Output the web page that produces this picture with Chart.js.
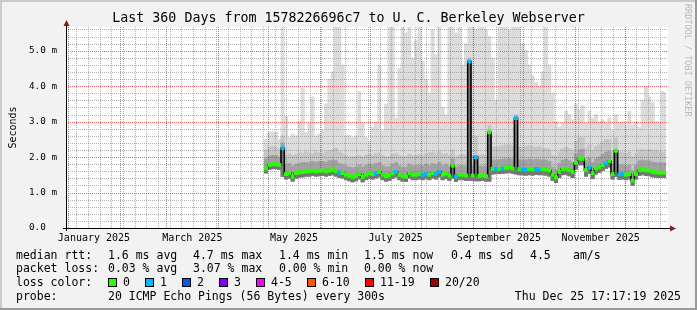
<!DOCTYPE html>
<html><head><meta charset="utf-8">
<script src="https://cdn.jsdelivr.net/npm/chart.js@4/dist/chart.umd.min.js"></script>
<style>
html,body{margin:0;padding:0;background:#f2f2f2;}
#wrap{position:relative;width:697px;height:310px;overflow:hidden;}
canvas{position:absolute;left:0;top:0;}
.t{position:absolute;font-family:"DejaVu Sans Mono",monospace;white-space:pre;color:#000;}
#title{left:0;width:697px;text-align:center;top:9px;font-size:13.3px;line-height:18px;}
.lg{font-size:11.5px;line-height:14px;}
.box{position:absolute;width:7px;height:7px;border:1px solid #000;}
#wm{position:absolute;left:683px;top:4px;writing-mode:vertical-rl;font-family:"DejaVu Sans Mono",monospace;font-size:8.5px;color:#b8b8b8;}
</style></head>
<body><div id="wrap"><canvas id="c" width="697" height="310"></canvas>
<div id="title" class="t">Last 360 Days from 1578226696c7 to U. C. Berkeley Webserver</div>
<div id="wm">RRDTOOL / TOBI OETIKER</div>
</div>
<script>
// ---- data (days since start of 360-day window, values in ms) ----
const sampleDays = [120,122,124,126,128,130,132,134,136,138,140,142,144,146,148,150,152,154,156,158,
160,162,164,166,168,170,172,174,176,178,180,182,184,186,188,190,192,194,196,198,
200,202,204,206,208,210,212,214,216,218,220,222,224,226,228,230,232,234,236,238,
240,242,244,246,248,250,252,254,256,258,260,262,264,266,268,270,272,274,276,278,
280,282,284,286,288,290,292,294,296,298,300,302,304,306,308,310,312,314,316,318,
320,322,324,326,328,330,332,334,336,338,340,342,344,346,348,350,352,354,356,358,360];

const medianRtt = [1.68,1.78,1.80,1.80,1.78, 2.25,1.52,1.55,1.45,1.55, 1.57,1.58,1.60,1.60,1.62,
1.60,1.61,1.62,1.60,1.62, 1.64,1.60,1.56,1.55,1.50, 1.47,1.44,1.47,1.52,1.44,
1.50,1.54,1.52,1.55,1.58, 1.50,1.46,1.48,1.54,1.58, 1.50,1.46,1.45,1.55,1.50,
1.50,1.52,1.50,1.53,1.50, 1.55,1.52,1.58,1.50,1.53, 1.48,1.76,1.45,1.50,1.50,
1.48,4.70,1.48,2.00,1.47, 1.48,1.46,2.70,1.67,1.67, 1.67,1.68,1.69,1.70,1.68,
3.10,1.66,1.65,1.64,1.66, 1.65,1.67,1.66,1.66,1.65, 1.62,1.50,1.43,1.58,1.66,
1.67,1.63,1.58,1.84,1.96, 1.95,1.63,1.70,1.55,1.68, 1.72,1.77,1.82,1.88,1.52,
2.18,1.51,1.52,1.50,1.52, 1.34,1.52,1.63,1.64,1.63, 1.62,1.58,1.57,1.56,1.56, 1.56];

const lossCount = [0,0,0,0,0, 1,0,0,0,0, 0,0,0,0,0, 0,0,0,0,0, 0,0,1,0,0, 0,0,0,0,0,
0,0,0,1,0, 0,0,0,0,1, 0,0,0,0,0, 0,0,1,1,0, 0,1,1,0,0, 0,0,1,0,0,
0,1,0,1,0, 0,0,0,0,1, 0,1,0,0,0, 1,0,1,1,0, 0,1,1,0,0, 0,0,0,0,0,
0,0,0,0,0, 0,0,1,0,0, 0,0,1,0,0, 0,1,1,0,0, 0,0,0,0,0, 0,0,0,0,0, 0];

const smokeMax = [2.50,2.70,2.72,2.70,2.50, 5.80,3.15,2.55,2.65,2.60, 3.00,3.95,2.70,2.95,3.70,
2.60,2.65,2.75,3.50,4.20, 4.40,5.80,5.80,4.60,2.60, 2.62,2.55,2.60,3.85,2.95,
2.55,2.45,2.85,3.00,4.60, 2.75,3.50,5.80,5.80,3.10, 4.50,5.80,5.50,5.80,4.80,
5.30,5.80,4.70,4.20,3.80, 5.60,4.90,5.80,3.40,3.20, 5.80,5.80,5.50,5.80,4.60,
5.20,5.80,5.80,5.60,5.70, 5.80,5.60,5.40,4.80,3.60, 5.80,5.70,5.80,5.60,5.80,
5.80,5.80,5.20,5.00,4.60, 4.30,4.10,4.00,4.40,5.80, 4.60,3.80,3.00,2.85,2.95,
3.30,3.20,3.05,3.50,3.35, 3.45,2.95,3.30,3.10,3.20, 3.00,3.05,2.95,3.10,2.75,
3.20,2.95,3.00,2.90,3.30, 2.90,3.00,2.85,3.60,4.00, 3.70,3.55,3.00,2.95,3.85, 3.80];

const smokeMid = [2.20,2.28,2.30,2.28,2.22, 2.60,2.05,2.10,2.05,2.08, 2.12,2.10,2.15,2.12,2.10,
2.15,2.12,2.10,2.15,2.18, 2.20,2.25,2.15,2.10,2.05, 2.00,2.00,2.02,2.05,2.00,
2.05,2.08,2.05,2.10,2.12, 2.05,2.00,2.02,2.08,2.10, 2.05,2.00,2.02,2.08,2.05,
2.05,2.08,2.05,2.10,2.12, 2.15,2.10,2.15,2.08,2.10, 2.05,2.20,2.00,2.05,2.08,
2.05,4.80,2.05,2.60,2.05, 2.08,2.05,2.90,2.30,2.28, 2.30,2.32,2.35,2.35,2.32,
3.20,2.28,2.28,2.30,2.32, 2.30,2.28,2.30,2.25,2.25, 2.22,2.05,2.00,2.15,2.25,
2.28,2.25,2.20,2.45,2.55, 2.55,2.25,2.35,2.20,2.30, 2.35,2.45,2.50,2.50,2.15,
2.55,2.15,2.15,2.10,2.15, 2.00,2.10,2.20,2.22,2.20, 2.22,2.20,2.20,2.15,2.15, 2.15];

const smokeDark = [1.95,2.02,2.05,2.05,2.00, 2.40,1.80,1.82,1.75,1.80, 1.82,1.85,1.85,1.85,1.88,
1.85,1.88,1.88,1.86,1.90, 1.92,1.90,1.82,1.80,1.75, 1.72,1.70,1.72,1.78,1.72,
1.76,1.80,1.78,1.82,1.85, 1.76,1.72,1.74,1.80,1.85, 1.76,1.72,1.72,1.80,1.76,
1.76,1.78,1.76,1.80,1.76, 1.82,1.78,1.85,1.76,1.80, 1.74,1.95,1.72,1.76,1.76,
1.75,4.70,1.75,2.00,1.74, 1.75,1.73,2.70,1.92,1.92, 1.93,1.94,1.95,1.96,1.94,
3.10,1.92,1.92,1.92,1.94, 1.92,1.94,1.93,1.92,1.92, 1.88,1.72,1.66,1.82,1.92,
1.94,1.90,1.85,2.10,2.20, 2.22,1.90,1.98,1.85,1.95, 2.00,2.08,2.14,2.18,1.80,
2.18,1.78,1.78,1.76,1.78, 1.62,1.78,1.90,1.92,1.90, 1.90,1.86,1.85,1.84,1.84, 1.84];

const smokeMin = [1.55,1.65,1.67,1.67,1.65, 1.45,1.38,1.40,1.32,1.40, 1.43,1.44,1.46,1.46,1.48,
1.46,1.47,1.48,1.46,1.48, 1.50,1.46,1.42,1.41,1.36, 1.33,1.30,1.33,1.38,1.30,
1.36,1.40,1.38,1.41,1.44, 1.36,1.32,1.34,1.40,1.44, 1.36,1.32,1.31,1.41,1.36,
1.36,1.38,1.36,1.39,1.36, 1.41,1.38,1.44,1.36,1.39, 1.34,1.40,1.31,1.36,1.36,
1.34,1.34,1.34,1.33,1.33, 1.34,1.32,1.32,1.52,1.53, 1.53,1.54,1.55,1.56,1.54,
1.52,1.50,1.50,1.49,1.50, 1.49,1.51,1.50,1.50,1.49, 1.46,1.34,1.28,1.42,1.50,
1.51,1.47,1.42,1.66,1.78, 1.78,1.46,1.54,1.39,1.52, 1.56,1.62,1.68,1.72,1.38,
1.45,1.37,1.38,1.36,1.38, 1.20,1.38,1.48,1.50,1.48, 1.47,1.44,1.43,1.42,1.42, 1.42];

const yTickValues = [0,1,2,3,4,5];
const yTickLabels = ['0.0  ','1.0 m','2.0 m','3.0 m','4.0 m','5.0 m'];
const xTickMonths = [0,2,4,6,8,10];
const xTickLabels = ['January 2025','March 2025','May 2025','July 2025','September 2025','November 2025'];

const lossColors = ['#26ff00','#00b8ff','#0059ff','#7e00ff','#ff00ff','#ff5500','#ff0000','#a10000'];
const lossNames = ['0','1','2','3','4-5','6-10','11-19','20/20'];

const legendRows = [
  {y:255, parts:[[16,'median rtt:'],[108,'1.6 ms avg'],[193,'4.7 ms max'],[279,'1.4 ms min'],[364,'1.5 ms now'],[451,'0.4 ms sd'],[530,'4.5'],[573,'am/s']]},
  {y:268, parts:[[16,'packet loss:'],[108,'0.03 % avg'],[193,'3.07 % max'],[279,'0.00 % min'],[364,'0.00 % now']]},
  {y:282, parts:[[16,'loss color:']]},
  {y:296, parts:[[16,'probe:'],[108,'20 ICMP Echo Pings (56 Bytes) every 300s']]}
];
const stampText = 'Thu Dec 25 17:17:19 2025';

// ---- time helpers ----
const DAY = 86400000;
const T0 = Date.UTC(2024,11,30,17,17,19);
const dayOf = t => (t - T0) / DAY;
const monthStarts = [];
for (let m = 0; m < 12; m++) monthStarts.push(dayOf(Date.UTC(2025, m, 1)));
const weekLines = [];
for (let t = Date.UTC(2025,0,6); dayOf(t) < 360; t += 7*DAY) weekLines.push(dayOf(t));
const labelDays = xTickMonths.map(m => monthStarts[m] + 15.5);

// ---- HTML legend ----
const wrap = document.getElementById('wrap');
function addText(x, y, s, extra) {
  const d = document.createElement('div');
  d.className = 't lg'; d.textContent = s;
  d.style.left = x + 'px'; d.style.top = (y - 7) + 'px';
  if (extra) Object.assign(d.style, extra);
  wrap.appendChild(d); return d;
}
legendRows.forEach(r => r.parts.forEach(p => addText(p[0], r.y, p[1])));
const boxX = [108,145,182,219,256,307,365,430];
lossNames.forEach((n, i) => {
  const b = document.createElement('div');
  b.className = 'box'; b.style.left = boxX[i] + 'px'; b.style.top = '278px';
  b.style.background = lossColors[i]; wrap.appendChild(b);
  addText(boxX[i] + 15, 282, n);
});
addText(0, 296, stampText, {left:'auto', right:(697-681)+'px'});

// ---- chart ----
const mk = (lo, hi) => sampleDays.map((d, i) => ({x: d, y: [lo[i], hi[i]]}));
const barBase = {type:'bar', barPercentage:1, categoryPercentage:1, grouped:false, borderWidth:0};

const framePlugin = {
  id: 'frame',
  beforeDraw(chart) {
    const {ctx, chartArea: a} = chart;
    ctx.save();
    ctx.fillStyle = '#f2f2f2'; ctx.fillRect(0, 0, 697, 310);
    ctx.fillStyle = '#cbcbcb'; ctx.fillRect(0, 0, 697, 2); ctx.fillRect(0, 0, 2, 310);
    ctx.fillStyle = '#999999'; ctx.fillRect(0, 308, 697, 2); ctx.fillRect(695, 0, 2, 310);
    ctx.fillStyle = '#ffffff'; ctx.fillRect(a.left, a.top, a.right - a.left + 2, a.bottom - a.top);
    ctx.restore();
  },
  afterDatasetDraw(chart, args) {
    if (args.index !== 3) return;
    const {ctx, chartArea: a, scales: {x, y}} = chart;
    ctx.save();
    ctx.lineWidth = 1;
    ctx.setLineDash([1, 1]);
    // minor grid
    ctx.strokeStyle = 'rgba(130,130,130,0.62)';
    ctx.beginPath();
    weekLines.forEach(d => { const px = Math.round(x.getPixelForValue(d)) + 0.5; ctx.moveTo(px, a.bottom); ctx.lineTo(px, a.top); });
    for (let k = 1; k <= 28; k++) {
      if (k % 5 === 0) continue;
      const py = Math.round(y.getPixelForValue(k * 0.2)) + 0.5;
      ctx.moveTo(a.left, py); ctx.lineTo(a.right + 2, py);
    }
    ctx.stroke();
    // major grid
    ctx.strokeStyle = 'rgba(235,45,45,0.72)';
    ctx.beginPath();
    monthStarts.forEach(d => { const px = Math.round(x.getPixelForValue(d)) + 0.5; ctx.moveTo(px, a.bottom); ctx.lineTo(px, a.top); });
    [1,2,3,4,5].forEach(v => { const py = Math.round(y.getPixelForValue(v)) + 0.5; ctx.moveTo(a.left, py); ctx.lineTo(a.right + 2, py); });
    ctx.stroke();
    ctx.restore();
  },
  afterDraw(chart) {
    const {ctx, chartArea: a} = chart;
    ctx.save();
    ctx.strokeStyle = '#000'; ctx.lineWidth = 1;
    ctx.beginPath();
    ctx.moveTo(a.left + 0.5, a.bottom + 3); ctx.lineTo(a.left + 0.5, a.top - 5);
    ctx.moveTo(a.left - 3, a.bottom + 0.5); ctx.lineTo(a.right + 7, a.bottom + 0.5);
    ctx.stroke();
    ctx.fillStyle = '#7f1f1f';
    ctx.beginPath();
    ctx.moveTo(a.left + 0.5, a.top - 7); ctx.lineTo(a.left - 2.5, a.top - 1); ctx.lineTo(a.left + 3.5, a.top - 1); ctx.closePath(); ctx.fill();
    ctx.beginPath();
    ctx.moveTo(a.right + 10, a.bottom + 0.5); ctx.lineTo(a.right + 4, a.bottom - 2.5); ctx.lineTo(a.right + 4, a.bottom + 3.5); ctx.closePath(); ctx.fill();
    ctx.restore();
  }
};

const monoFont = {family: '"DejaVu Sans Mono", monospace', size: 10};
const yFont = {family: '"DejaVu Sans Mono", monospace', size: 9.3};

new Chart(document.getElementById('c'), {
  data: {
    datasets: [
      Object.assign({}, barBase, {label:'max', data: mk(smokeMin, smokeMax), backgroundColor:'#dcdcdc', order:6}),
      Object.assign({}, barBase, {label:'mid', data: mk(smokeMin, smokeMid), backgroundColor:'#c6c6c6', order:5}),
      Object.assign({}, barBase, {label:'dark', data: mk(smokeMin, smokeDark), backgroundColor:'#a2a2a2', order:4}),
      Object.assign({}, barBase, {label:'low', data: mk(smokeMin, medianRtt), backgroundColor:'#767676', order:3}),
      {type:'line', label:'median', data: sampleDays.map((d, i) => ({x: d, y: medianRtt[i]})),
        stepped:'middle', borderColor:'#000', borderWidth:1.5, pointRadius:0, order:2},
      Object.assign({}, barBase, {label:'loss', order:1,
        data: sampleDays.map((d, i) => ({x: d, y: [medianRtt[i] - 0.045, medianRtt[i] + 0.045]})),
        backgroundColor: lossCount.map(l => lossColors[l])})
    ]
  },
  options: {
    responsive:false, animation:false, devicePixelRatio:1,
    layout:{padding:{left:0, right:31, top:27, bottom:60}},
    plugins:{legend:{display:false}, tooltip:{enabled:false}},
    scales:{
      x:{type:'linear', min:0, max:360, offset:false,
        afterBuildTicks: s => { s.ticks = labelDays.map(v => ({value:v})); },
        afterFit: s => { s.height = 22; },
        grid:{display:false, drawTicks:false}, border:{display:false},
        ticks:{autoSkip:false, maxRotation:0, padding:4, color:'#000', font:monoFont,
          callback:(v, i) => xTickLabels[i]}},
      y:{type:'linear', min:0, max:5.67,
        afterBuildTicks: s => { s.ticks = yTickValues.map(v => ({value:v})); },
        afterFit: s => { s.width = 66; },
        grid:{display:false, drawTicks:false}, border:{display:false},
        ticks:{padding:9, color:'#000', font:yFont, callback:(v, i) => yTickLabels[i]},
        title:{display:true, text:'Seconds', color:'#000', font:monoFont, padding:{top:7, bottom:0}}}
    }
  },
  plugins:[framePlugin]
});
</script>
</body></html>
